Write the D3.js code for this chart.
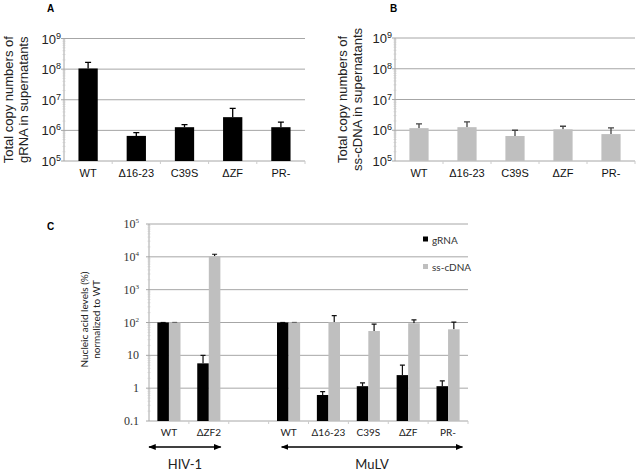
<!DOCTYPE html>
<html>
<head>
<meta charset="utf-8">
<script src="https://cdn.jsdelivr.net/npm/d3@7"></script>
<style>
  body { margin: 0; background: #fff; }
  svg { display: block; }
</style>
</head>
<body>
<svg id="fig" width="644" height="473"></svg>
<script>
// panels A and B: MuLV mutants, copies in supernatants
const mulvCats = ["WT", "Δ16-23", "C39S", "ΔZF", "PR-"];
const gRNA = [1.05e8, 6.6e5, 1.27e6, 2.7e6, 1.27e6];
const gRNAHi = [1.65e8, 8.5e5, 1.55e6, 5.2e6, 1.85e6];
const ssDNA = [1.17e6, 1.26e6, 6.5e5, 1.07e6, 7.5e5];
const ssDNAHi = [1.6e6, 1.87e6, 1.0e6, 1.35e6, 1.2e6];
const copyTicks = [1e5, 1e6, 1e7, 1e8, 1e9];

// panel C: normalized to WT (%)
const cLabels = ["WT", "ΔZF2", "", "WT", "Δ16-23", "C39S", "ΔZF", "PR-"];
const cGRNA = [100, 5.7, null, 100, 0.62, 1.15, 2.5, 1.15];
const cGRNAHi = [100, 10, null, 100, 0.78, 1.45, 5.0, 1.67];
const cSS = [100, 10500, null, 100, 102, 55, 95, 62];
const cSSHi = [100, 12000, null, 100, 162, 89, 120, 102];
const pctTicks = [0.1, 1, 10, 100, 1000, 10000, 100000];
const pctTickText = [["0.1"], ["1"], ["10"], ["10", "2"], ["10", "3"], ["10", "4"], ["10", "5"]];
const seriesNames = ["gRNA", "ss-cDNA"];

const BLACK = "#000", GREY = "#bfbfbf", GRID = "#a6a6a6";
const svg = d3.select("#fig");

function minorTicks(lo, hi) {
  const out = [];
  for (let e = Math.log10(lo); e < Math.log10(hi); e++)
    for (let m = 2; m <= 9; m++) out.push(m * Math.pow(10, e));
  return out;
}

function copyPanel(opt) {
  const {x0, x1, y0, y1, values, hi, fill, letter, label, labelX} = opt;
  const g = svg.append("g");
  const x = d3.scaleBand(mulvCats, [x0, x1]).paddingInner(0.6).paddingOuter(0.3);
  const y = d3.scaleLog([1e5, 1e9], [y1, y0]);

  // gridlines
  g.append("g").selectAll("line").data(copyTicks.slice(1)).join("line")
    .attr("x1", x0).attr("x2", x1)
    .attr("y1", d => y(d)).attr("y2", d => y(d))
    .attr("stroke", GRID).attr("stroke-width", 1);

  // y axis with minor ticks
  g.append("line").attr("x1", x0).attr("x2", x0).attr("y1", y0).attr("y2", y1)
    .attr("stroke", GRID);
  g.append("g").selectAll("line").data(minorTicks(1e5, 1e9)).join("line")
    .attr("x1", x0 - 1.5).attr("x2", x0 + 1.5)
    .attr("y1", d => y(d)).attr("y2", d => y(d))
    .attr("stroke", "#c8c8c8").attr("stroke-width", 0.6);
  g.append("g").selectAll("line").data(copyTicks).join("line")
    .attr("x1", x0 - 3).attr("x2", x0)
    .attr("y1", d => y(d)).attr("y2", d => y(d))
    .attr("stroke", GRID);

  const tl = g.append("g").selectAll("text").data(copyTicks).join("text")
    .attr("x", x0 - 3).attr("y", d => y(d) + 5)
    .attr("text-anchor", "end")
    .style("font", "13px 'Liberation Sans', Arial, sans-serif")
    .attr("fill", "#222");
  tl.append("tspan").text("10");
  tl.append("tspan").attr("dy", -5).style("font-size", "9px").text(d => Math.round(Math.log10(d)));

  // x axis
  g.append("line").attr("x1", x0).attr("x2", x1).attr("y1", y1).attr("y2", y1)
    .attr("stroke", GRID);
  g.append("g").selectAll("line").data(d3.range(1, mulvCats.length + 1)).join("line")
    .attr("x1", d => x0 + x.step() * d).attr("x2", d => x0 + x.step() * d)
    .attr("y1", y1).attr("y2", y1 + 3).attr("stroke", "#ccc");

  g.append("g").selectAll("text").data(mulvCats).join("text")
    .attr("x", d => x(d) + x.bandwidth() / 2).attr("y", y1 + 16)
    .attr("text-anchor", "middle")
    .style("font", "11px 'Liberation Sans', Arial, sans-serif")
    .attr("fill", "#111")
    .text(d => d);

  // error whiskers (upper only)
  const cx = i => x(mulvCats[i]) + x.bandwidth() / 2;
  g.append("g").selectAll("path").data(values).join("path")
    .attr("d", (d, i) => `M${cx(i)},${y(d)}V${y(hi[i])}M${cx(i) - 3},${y(hi[i])}h6`)
    .attr("stroke", fill === BLACK ? BLACK : "#444").attr("stroke-width", 1.3).attr("fill", "none");

  g.append("g").selectAll("rect").data(values).join("rect")
    .attr("x", (d, i) => x(mulvCats[i])).attr("width", x.bandwidth())
    .attr("y", d => y(d)).attr("height", d => y1 - y(d))
    .attr("fill", fill);

  g.append("text").attr("x", letter[0]).attr("y", letter[1])
    .style("font", "bold 10px 'Liberation Sans', Arial, sans-serif").text(letter[2]);

  const yl = g.append("text")
    .attr("transform", `translate(${labelX},${(y0 + y1) / 2}) rotate(-90)`)
    .attr("text-anchor", "middle")
    .style("font", "13px 'Liberation Sans', Arial, sans-serif")
    .attr("fill", "#222");
  yl.append("tspan").attr("x", 0).attr("dy", 0).text(label[0]);
  yl.append("tspan").attr("x", 0).attr("dy", 15).text(label[1]);
}

copyPanel({x0: 64, x1: 305, y0: 38.5, y1: 161, values: gRNA, hi: gRNAHi, fill: BLACK,
  letter: [47, 12, "A"], label: ["Total copy numbers of", "gRNA in supernatants"], labelX: 13});
copyPanel({x0: 395, x1: 635, y0: 38, y1: 161, values: ssDNA, hi: ssDNAHi, fill: GREY,
  letter: [390, 12, "B"], label: ["Total copy numbers of", "ss-cDNA in supernatants"], labelX: 347});

// ---------- panel C ----------
(function () {
  const x0 = 149, x1 = 468, y0 = 224, y1 = 421;
  const g = svg.append("g");
  const idx = d3.range(cLabels.length);
  const x = d3.scaleBand(idx, [x0, x1]);
  const inner = d3.scaleBand([0, 1], [0, x.bandwidth() * 0.58]);
  const off = x.bandwidth() * 0.21;
  const y = d3.scaleLog([0.1, 1e5], [y1, y0]);

  g.append("g").selectAll("line").data(pctTicks.slice(1)).join("line")
    .attr("x1", x0).attr("x2", x1)
    .attr("y1", d => y(d)).attr("y2", d => y(d))
    .attr("stroke", GRID);
  g.append("line").attr("x1", x0).attr("x2", x0).attr("y1", y0).attr("y2", y1).attr("stroke", GRID);
  g.append("g").selectAll("line").data(minorTicks(0.1, 1e5)).join("line")
    .attr("x1", x0 - 1.5).attr("x2", x0 + 1.5)
    .attr("y1", d => y(d)).attr("y2", d => y(d))
    .attr("stroke", "#c8c8c8").attr("stroke-width", 0.6);
  g.append("g").selectAll("line").data(pctTicks).join("line")
    .attr("x1", x0 - 3).attr("x2", x0)
    .attr("y1", d => y(d)).attr("y2", d => y(d)).attr("stroke", GRID);

  const tl = g.append("g").selectAll("text").data(pctTicks).join("text")
    .attr("x", x0 - 10).attr("y", d => y(d) + 4)
    .attr("text-anchor", "end")
    .style("font", "12px 'Liberation Serif', 'Times New Roman', serif")
    .attr("fill", "#333");
  tl.append("tspan").text((d, i) => pctTickText[i][0]);
  tl.append("tspan").attr("dy", -5).style("font-size", "7px").text((d, i) => pctTickText[i][1] || "");

  g.append("line").attr("x1", x0).attr("x2", x1).attr("y1", y1).attr("y2", y1).attr("stroke", GRID);
  g.append("g").selectAll("line").data(d3.range(1, cLabels.length + 1)).join("line")
    .attr("x1", d => x0 + x.step() * d).attr("x2", d => x0 + x.step() * d)
    .attr("y1", y1).attr("y2", y1 + 3).attr("stroke", "#ccc");

  g.append("g").selectAll("text").data(idx).join("text")
    .attr("x", d => x(d) + x.bandwidth() / 2).attr("y", y1 + 15)
    .attr("text-anchor", "middle")
    .style("font", "10px Lato, 'Open Sans', sans-serif")
    .attr("fill", "#222")
    .text(d => cLabels[d]);

  const series = [[cGRNA, cGRNAHi, BLACK], [cSS, cSSHi, GREY]];
  series.forEach(([vals, hi, fill], s) => {
    const pts = idx.filter(i => vals[i] != null);
    const bx = i => x(i) + off + inner(s);
    const cx = i => bx(i) + inner.bandwidth() / 2;
    g.append("g").selectAll("path").data(pts).join("path")
      .attr("d", i => `M${cx(i)},${y(vals[i])}V${y(hi[i])}M${cx(i) - 2.5},${y(hi[i])}h5`)
      .attr("stroke", "#111").attr("stroke-width", 1.2).attr("fill", "none");
    g.append("g").selectAll("rect").data(pts).join("rect")
      .attr("x", bx).attr("width", inner.bandwidth())
      .attr("y", i => y(vals[i])).attr("height", i => y1 - y(vals[i]))
      .attr("fill", fill);
  });

  // legend
  const lg = g.append("g").selectAll("g").data(seriesNames).join("g")
    .attr("transform", (d, i) => `translate(423,${236.5 + i * 27.5})`);
  lg.append("rect").attr("width", 5).attr("height", 5).attr("fill", (d, i) => i ? GREY : BLACK);
  lg.append("text").attr("x", 9).attr("y", 7)
    .style("font", "10px Lato, 'Open Sans', sans-serif").attr("fill", "#333").text(d => d);

  // group arrows
  svg.append("defs").append("marker")
    .attr("id", "ah").attr("viewBox", "0 -5 10 10").attr("refX", 9).attr("refY", 0)
    .attr("markerWidth", 5).attr("markerHeight", 5).attr("orient", "auto-start-reverse")
    .append("path").attr("d", "M0,-4L10,0L0,4Z").attr("fill", "#000");
  const groups = [
    {name: "HIV-1", from: 0, to: 1, ext: [0, -8]},
    {name: "MuLV", from: 3, to: 7, ext: [13, -5.5]}
  ];
  groups.forEach(gr => {
    const a = x(gr.from) + gr.ext[0];
    const b = x(gr.to) + x.step() + gr.ext[1];
    g.append("line").attr("x1", a).attr("x2", b).attr("y1", 447).attr("y2", 447)
      .attr("stroke", "#000").attr("stroke-width", 1.5)
      .attr("marker-start", "url(#ah)").attr("marker-end", "url(#ah)");
    g.append("text").attr("x", (a + b) / 2).attr("y", 469)
      .attr("text-anchor", "middle")
      .style("font", "13px Lato, 'Open Sans', sans-serif").attr("fill", "#222")
      .text(gr.name);
  });

  g.append("text").attr("x", 47).attr("y", 230)
    .style("font", "bold 10px 'Liberation Sans', Arial, sans-serif").text("C");

  const yl = g.append("text")
    .attr("transform", `translate(88,${(y0 + y1) / 2 - 3}) rotate(-90)`)
    .attr("text-anchor", "middle")
    .style("font", "10px Lato, 'Open Sans', sans-serif").attr("fill", "#222");
  yl.append("tspan").attr("x", 0).text("Nucleic acid levels (%)");
  yl.append("tspan").attr("x", 0).attr("dy", 12).text("normalized to WT");
})();
</script>
</body>
</html>
